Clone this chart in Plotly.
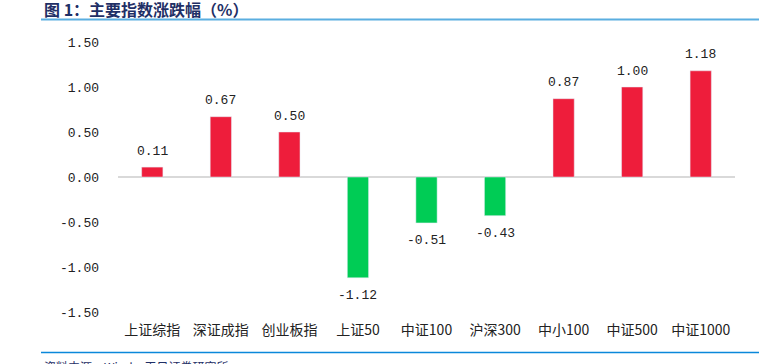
import plotly.graph_objects as go

categories = ["上证综指", "深证成指", "创业板指", "上证50", "中证100", "沪深300", "中小100", "中证500", "中证1000"]
values = [0.11, 0.67, 0.50, -1.12, -0.51, -0.43, 0.87, 1.00, 1.18]
tick_vals = [-1.5, -1.0, -0.5, 0.0, 0.5, 1.0, 1.5]
tick_text = ["-1.50", "-1.00", "-0.50", "0.00", "0.50", "1.00", "1.50"]
title_text = "图 1：主要指数涨跌幅（%）"
source_text = "资料来源：Wind，天风证券研究所"

RED = "#EE1D3B"
GREEN = "#00CC55"
colors = [RED if v >= 0 else GREEN for v in values]

W, H = 780, 364
L, R, T, B = 118, 45, 42, 52
pw, ph = W - L - R, H - T - B

def px(x):
    return (x - L) / pw

def py(y):
    return (H - B - y) / ph

NUM_FONT = "Liberation Mono, DejaVu Sans Mono, monospace"
CJK_FONT = "Noto Sans CJK SC, sans-serif"

fig = go.Figure()
fig.add_trace(go.Bar(
    x=categories, y=values, marker_color=colors, width=0.31,
    showlegend=False, hoverinfo="x+y",
))

for c, v in zip(categories, values):
    fig.add_annotation(x=c, y=v, text=f"{v:.2f}", showarrow=False,
                       yshift=16 if v >= 0 else -18, xanchor="center", yanchor="middle",
                       font=dict(size=13, color="#222222", family=NUM_FONT))

fig.update_layout(
    width=W, height=H,
    margin=dict(l=L, r=R, t=T, b=B, pad=0),
    paper_bgcolor="white", plot_bgcolor="white",
    font=dict(family=CJK_FONT, size=13, color="#222222"),
    bargap=0.69,
    xaxis=dict(showgrid=False, zeroline=False, showline=False, ticks="",
               tickfont=dict(size=14, family=CJK_FONT, color="#222222"),
               ticklabelstandoff=8),
    yaxis=dict(range=[-1.5, 1.5], tickvals=tick_vals, ticktext=tick_text,
               showgrid=False, zeroline=True, zerolinecolor="#D9D9D9", zerolinewidth=2,
               showline=False, ticks="", tickfont=dict(size=13, color="#222222", family=NUM_FONT),
               ticklabelstandoff=18),
)

fig.add_annotation(xref="paper", yref="paper", x=px(42), y=py(9), xanchor="left", yanchor="middle",
                   text=f"<b>{title_text}</b>", showarrow=False,
                   font=dict(size=16, color="#1F2F66", family=CJK_FONT))
fig.add_shape(type="line", xref="paper", yref="paper", x0=px(41), x1=px(759), y0=py(19.5), y1=py(19.5),
              line=dict(color="#5AAEE0", width=2))
fig.add_shape(type="line", xref="paper", yref="paper", x0=px(41), x1=px(759), y0=py(352.5), y1=py(352.5),
              line=dict(color="#0A88DA", width=1.5))
fig.add_annotation(xref="paper", yref="paper", x=px(42), y=py(356), xanchor="left", yanchor="top",
                   text=source_text, showarrow=False,
                   font=dict(size=12, color="#1F2F66", family=CJK_FONT))

fig.write_html("out.html", config={"displayModeBar": False},
               post_script="document.body.style.margin='0';document.body.style.overflow='hidden';")
